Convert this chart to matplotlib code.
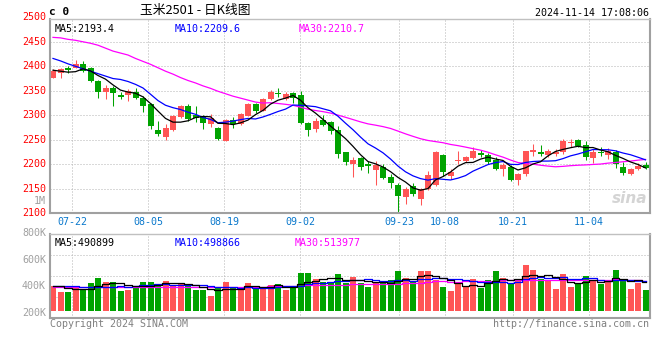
import numpy as np
import pandas as pd
import matplotlib
matplotlib.use('Agg')
import matplotlib.pyplot as plt

plt.rcParams['font.family'] = ['DejaVu Sans Mono', 'Noto Sans CJK SC']

# 玉米2501 日K, 2024-07-17 ~ 2024-11-14 (值都是从图上估读的)
opens = [2377, 2386, 2397, 2397, 2405, 2397, 2370, 2348, 2356, 2341,
         2341, 2348, 2336, 2324, 2270, 2255, 2271, 2296, 2319, 2301,
         2298, 2283, 2274, 2248, 2290, 2282, 2299, 2323, 2309, 2334,
         2346, 2333, 2345, 2341, 2285, 2272, 2290, 2286, 2270, 2225,
         2201, 2212, 2201, 2188, 2195, 2174, 2158, 2134, 2156, 2129,
         2149, 2157, 2219, 2177, 2207, 2207, 2212, 2224, 2219, 2209,
         2190, 2195, 2167, 2180, 2226, 2226, 2219, 2222, 2225, 2243,
         2250, 2240, 2212, 2225, 2218, 2226, 2195, 2180, 2191, 2199]
highs = [2394, 2397, 2401, 2413, 2411, 2398, 2372, 2362, 2359, 2348,
         2353, 2355, 2339, 2326, 2288, 2282, 2300, 2320, 2323, 2318,
         2301, 2303, 2277, 2292, 2296, 2304, 2325, 2325, 2336, 2351,
         2355, 2348, 2347, 2349, 2286, 2295, 2301, 2289, 2279, 2226,
         2215, 2215, 2206, 2207, 2200, 2180, 2161, 2154, 2161, 2152,
         2186, 2228, 2222, 2190, 2227, 2217, 2235, 2229, 2224, 2214,
         2203, 2198, 2182, 2228, 2241, 2239, 2231, 2231, 2251, 2252,
         2252, 2247, 2231, 2236, 2233, 2229, 2205, 2192, 2202, 2205]
lows = [2376, 2377, 2386, 2396, 2388, 2368, 2336, 2333, 2318, 2334,
        2330, 2333, 2306, 2273, 2258, 2249, 2268, 2295, 2289, 2287,
        2273, 2277, 2250, 2248, 2275, 2280, 2298, 2304, 2308, 2331,
        2337, 2331, 2326, 2283, 2258, 2265, 2278, 2262, 2212, 2199,
        2175, 2188, 2183, 2158, 2170, 2152, 2103, 2119, 2135, 2117,
        2147, 2156, 2176, 2169, 2201, 2204, 2210, 2215, 2201, 2188,
        2177, 2165, 2157, 2177, 2217, 2216, 2214, 2217, 2222, 2236,
        2236, 2209, 2203, 2216, 2210, 2192, 2178, 2178, 2188, 2190]
closes = [2390, 2395, 2393, 2405, 2391, 2369, 2348, 2356, 2346, 2338,
          2349, 2336, 2319, 2278, 2261, 2274, 2298, 2319, 2292, 2294,
          2285, 2295, 2252, 2290, 2283, 2303, 2323, 2308, 2333, 2347,
          2343, 2344, 2335, 2285, 2270, 2288, 2280, 2267, 2222, 2205,
          2209, 2195, 2197, 2199, 2172, 2162, 2136, 2150, 2139, 2149,
          2178, 2225, 2184, 2185, 2209, 2214, 2227, 2218, 2205, 2190,
          2199, 2168, 2180, 2227, 2229, 2222, 2228, 2225, 2248, 2246,
          2237, 2214, 2226, 2223, 2228, 2200, 2183, 2190, 2197, 2193]
# 成交量, 单位K (按左边刻度估读)
volumes = [400, 357, 357, 392, 377, 424, 462, 432, 432, 364,
           374, 392, 432, 432, 417, 439, 402, 424, 407, 372,
           372, 327, 385, 432, 392, 372, 424, 387, 392, 409,
           417, 372, 387, 499, 499, 454, 432, 422, 492, 427,
           469, 424, 394, 432, 427, 447, 514, 462, 434, 514,
           514, 447, 394, 364, 417, 402, 454, 387, 447, 514,
           462, 417, 447, 559, 522, 454, 439, 379, 492, 394,
           424, 477, 447, 417, 447, 522, 447, 379, 427, 372]

# 窗口开头的均线值 (前面的K线不在图里, 直接读图)
ma5_head = [2392, 2390, 2388, 2389]
ma10_head = [2416, 2411, 2405, 2400, 2395, 2390, 2385, 2380, 2375]
ma30_head = [2459, 2458, 2455, 2453, 2450, 2447, 2443, 2437, 2431, 2427,
             2423, 2416, 2410, 2404, 2397, 2390, 2384, 2377, 2371, 2366,
             2360, 2355, 2349, 2344, 2339, 2335, 2331, 2327, 2325]
vma5_head = [404, 404, 390, 377]
vma10_head = [402, 402, 402, 400, 395, 392, 392, 392, 395]
vma30_head = [393, 393, 393, 393, 393, 393, 393, 393, 393, 393,
              393, 393, 393, 393, 393, 393, 393, 393, 393, 393,
              393, 393, 393, 393, 393, 393, 393, 394, 395]

date_idx = [3, 13, 23, 33, 46, 52, 61, 71]
date_labels = ['07-22', '08-05', '08-19', '09-02', '09-23', '10-08', '10-21', '11-04']
price_grid = [2150, 2200, 2250, 2300, 2350, 2400, 2450]
price_labels = [2100, 2150, 2200, 2250, 2300, 2350, 2400, 2450, 2500]
vol_labels = [200, 400, 600, 800]

RED = '#ff5555'
GREEN = '#00a300'
GRID = '#b4b4b4'
BORDER = '#a0a0a0'
W, H = 660, 360


def px_rect(l, t, r, b):
    return [l / W, 1 - b / H, (r - l) / W, (b - t) / H]


def ma_line(values, n, head):
    out = pd.Series(values, dtype=float).rolling(n).mean().to_numpy()
    out[:len(head)] = head
    return out


idx = np.arange(len(closes))
o = np.array(opens, dtype=float)
c = np.array(closes, dtype=float)
up = c >= o
colors = np.where(up, RED, GREEN)
# sina的竖网格线和K线间距有一点点错位
tick_x = np.array(date_idx) * (7.6 / 7.5) - 0.47

fig = plt.figure(figsize=(6.6, 3.6), dpi=100)
ax = fig.add_axes(px_rect(50, 19, 650, 213.3))
axv = fig.add_axes(px_rect(50, 234.3, 650, 318.3))

for a in (ax, axv):
    a.set_xlim(-0.4, 79.6)
    a.set_xticks(tick_x)
    a.tick_params(length=0)
    a.grid(True, color=GRID, linestyle=(0, (1, 2)), linewidth=0.72)
    a.set_axisbelow(True)
    for s in a.spines.values():
        s.set_color(BORDER)
        s.set_linewidth(1.5)
    a.spines['top'].set_linewidth(1.0)
    a.spines['top'].set_color('#c0c0c0')

# ---- K线 ----
ax.set_ylim(2100, 2496.5)
ax.set_yticks(price_grid)
ax.set_yticklabels([])
ax.set_xticklabels(date_labels, color='#0a78cc', fontsize=7.2)
ax.tick_params(axis='x', pad=3)

body_lo = np.minimum(o, c)
body_h = np.maximum(np.abs(c - o), 1.6)
ax.vlines(idx, lows, highs, colors=colors, linewidth=0.75)
ax.bar(idx, body_h, bottom=body_lo, width=0.8, color=colors, linewidth=0)

ma5 = ma_line(closes, 5, ma5_head)
ma10 = ma_line(closes, 10, ma10_head)
ma30 = ma_line(closes, 30, ma30_head)
ax.plot(idx, ma30, color='#ff00ff', linewidth=0.9)
ax.plot(idx, ma10, color='#0000ff', linewidth=0.9)
ax.plot(idx, ma5, color='black', linewidth=0.9)

ytr = ax.get_yaxis_transform()
for p in price_labels:
    ax.text(-4 / 600, p, str(p), transform=ytr, ha='right', va='center',
            color='#ff0000', fontsize=7.2, clip_on=False)
ax.text(-4 / 600, 2125.5, '1M', transform=ytr, ha='right', va='center',
        color='#a0a0a0', fontsize=7.2, clip_on=False)

ax.text(0.007, 0.975, 'MA5:2193.4', transform=ax.transAxes, ha='left', va='top',
        color='black', fontsize=7.2)
ax.text(0.208, 0.975, 'MA10:2209.6', transform=ax.transAxes, ha='left', va='top',
        color='#0000ff', fontsize=7.2)
ax.text(0.415, 0.975, 'MA30:2210.7', transform=ax.transAxes, ha='left', va='top',
        color='#ff00ff', fontsize=7.2)
ax.text(0.995, 0.04, 'sina', transform=ax.transAxes, ha='right', va='bottom',
        color='#d4d4d4', fontsize=11, fontweight='bold', style='italic',
        family='DejaVu Sans')

# ---- 成交量 ----
VOL_BASE = 217
axv.set_ylim(160, 789)
axv.set_yticks(np.linspace(160, 789, 5)[1:-1])
axv.set_yticklabels([])
axv.set_xticklabels([])
vols = np.array(volumes, dtype=float)
axv.bar(idx, vols - VOL_BASE, bottom=VOL_BASE, width=0.8, color=colors, linewidth=0)
vma5 = ma_line(volumes, 5, vma5_head)
vma10 = ma_line(volumes, 10, vma10_head)
vma30 = ma_line(volumes, 30, vma30_head)
axv.plot(idx, vma30, color='#ff00ff', linewidth=0.9, drawstyle='steps-mid')
axv.plot(idx, vma10, color='#0000ff', linewidth=0.9, drawstyle='steps-mid')
axv.plot(idx, vma5, color='black', linewidth=0.9, drawstyle='steps-mid')

vtr = axv.get_yaxis_transform()
for v in vol_labels:
    axv.text(-4 / 600, v, f'{v}K', transform=vtr, ha='right', va='center',
             color='#a0a0a0', fontsize=7.2, clip_on=False)
axv.text(0.007, 0.96, 'MA5:490899', transform=axv.transAxes, ha='left', va='top',
         color='black', fontsize=7.2)
axv.text(0.208, 0.96, 'MA10:498866', transform=axv.transAxes, ha='left', va='top',
         color='#0000ff', fontsize=7.2)
axv.text(0.408, 0.96, 'MA30:513977', transform=axv.transAxes, ha='left', va='top',
         color='#ff00ff', fontsize=7.2)

# ---- 顶部和底部文字 ----
fig.text(49 / W, 1 - 12 / H, 'c 0', ha='left', va='center', fontsize=8,
         fontweight='bold', color='black')
fig.text(140 / W, 1 - 10.5 / H, '玉米2501 - 日K线图', ha='left', va='center',
         fontsize=9.2, color='black', family=['Noto Sans CJK SC', 'DejaVu Sans'])
fig.text(649 / W, 1 - 12.5 / H, '2024-11-14 17:08:06', ha='right', va='center',
         fontsize=7.2, color='black')
fig.text(50 / W, 1 - 324 / H, 'Copyright 2024 SINA.COM', ha='left', va='center',
         fontsize=7.2, color='#808080')
fig.text(649 / W, 1 - 324 / H, 'http://finance.sina.com.cn', ha='right', va='center',
         fontsize=7.2, color='#808080')

fig.savefig('out.png', dpi=100)
